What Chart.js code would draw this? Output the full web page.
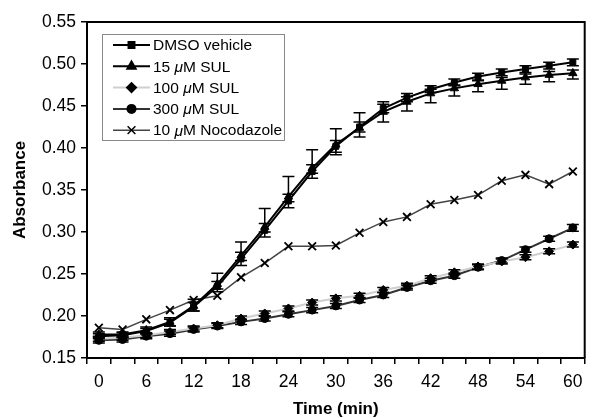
<!DOCTYPE html>
<html>
<head>
<meta charset="utf-8">
<script src="https://cdn.jsdelivr.net/npm/chart.js@4.4.1/dist/chart.umd.min.js"></script>
<style>
html,body{margin:0;padding:0;background:#fff;}
#c{display:block;}
</style>
</head>
<body>
<canvas id="c" width="592" height="418" style="width:592px;height:418px"></canvas>
<script>
const times = ['0','3','6','9','12','15','18','21','24','27','30','33','36','39','42','45','48','51','54','57','60'];
const yTickValues = [0.15,0.20,0.25,0.30,0.35,0.40,0.45,0.50,0.55];

const dmso   = [0.176,0.177,0.182,0.192,0.211,0.235,0.268,0.302,0.337,0.372,0.402,0.425,0.447,0.460,0.470,0.478,0.485,0.490,0.494,0.498,0.502];
const sul15  = [0.178,0.178,0.183,0.193,0.212,0.238,0.272,0.306,0.342,0.376,0.404,0.424,0.443,0.455,0.465,0.471,0.476,0.480,0.484,0.487,0.489];
const sul100 = [0.173,0.174,0.177,0.181,0.185,0.189,0.197,0.203,0.209,0.216,0.221,0.224,0.231,0.236,0.245,0.252,0.259,0.265,0.270,0.277,0.285];
const sul300 = [0.171,0.172,0.176,0.179,0.184,0.188,0.193,0.197,0.202,0.207,0.212,0.219,0.225,0.234,0.242,0.248,0.258,0.266,0.279,0.292,0.305];
const noco   = [0.186,0.184,0.196,0.207,0.219,0.224,0.246,0.263,0.283,0.283,0.284,0.299,0.312,0.318,0.333,0.338,0.344,0.361,0.368,0.357,0.372];

const dmsoErr      = [0.003,0.003,0.003,0.004,0.005,0.006,0.008,0.008,0.008,0.008,0.007,0.006,0.005,0.005,0.004,0.004,0.004,0.004,0.004,0.004,0.004];
const sul15ErrUp   = [0.003,0.003,0.004,0.005,0.008,0.013,0.016,0.022,0.024,0.022,0.019,0.018,0.012,0.006,0.005,0.004,0.004,0.004,0.004,0.004,0.004];
const sul15ErrDown = [0.003,0.003,0.004,0.005,0.006,0.006,0.006,0.006,0.006,0.006,0.012,0.011,0.012,0.011,0.011,0.009,0.009,0.010,0.008,0.008,0.007];
const sul100Err    = [0.003,0.003,0.003,0.003,0.003,0.003,0.003,0.003,0.003,0.003,0.003,0.003,0.003,0.003,0.003,0.003,0.003,0.003,0.003,0.003,0.003];
const sul300Err    = [0.003,0.003,0.003,0.003,0.003,0.003,0.003,0.003,0.003,0.003,0.003,0.003,0.003,0.003,0.003,0.003,0.003,0.003,0.003,0.003,0.004];

const seriesLabels = ['DMSO vehicle','15 μM SUL','100 μM SUL','300 μM SUL','10 μM Nocodazole'];

const FONT = "'Liberation Sans', Arial, Helvetica, sans-serif";

const errorBars = {
  id: 'errorBars',
  afterDatasetsDraw(chart) {
    const ctx = chart.ctx, xs = chart.scales.x, ys = chart.scales.y;
    ctx.save();
    ctx.strokeStyle = '#000';
    ctx.lineWidth = 1.5;
    chart.data.datasets.forEach((ds) => {
      if (!ds.errUp && !ds.errDown) return;
      ds.data.forEach((v, i) => {
        const x = xs.getPixelForValue(i);
        const y0 = ys.getPixelForValue(v);
        const segs = [];
        if (ds.errUp) segs.push(ys.getPixelForValue(v + ds.errUp[i]));
        if (ds.errDown) segs.push(ys.getPixelForValue(v - ds.errDown[i]));
        segs.forEach((y1) => {
          ctx.beginPath();
          ctx.moveTo(x, y0); ctx.lineTo(x, y1);
          ctx.moveTo(x - 6, y1); ctx.lineTo(x + 6, y1);
          ctx.stroke();
        });
      });
    });
    ctx.restore();
  }
};

const frame = {
  id: 'frame',
  afterDraw(chart) {
    const {ctx, chartArea: a} = chart;
    ctx.save();
    ctx.strokeStyle = '#000';
    ctx.lineWidth = 2;
    ctx.beginPath();
    ctx.moveTo(a.left, a.top); ctx.lineTo(a.right, a.top); ctx.lineTo(a.right, a.bottom);
    ctx.stroke();
    ctx.restore();
  }
};

function drawLabel(ctx, text, x, y, size) {
  const parts = text.split('μ');
  let cx = x;
  parts.forEach((p, k) => {
    if (k > 0) {
      ctx.font = 'italic ' + size + 'px ' + FONT;
      ctx.fillText('μ', cx, y);
      cx += ctx.measureText('μ').width;
    }
    ctx.font = size + 'px ' + FONT;
    ctx.fillText(p, cx, y);
    cx += ctx.measureText(p).width;
  });
}

const insideLegend = {
  id: 'insideLegend',
  afterDraw(chart) {
    const ctx = chart.ctx;
    const bx = 102, by = 34, bw = 182, bh = 106;
    ctx.save();
    ctx.fillStyle = '#fff';
    ctx.fillRect(bx, by, bw, bh);
    ctx.strokeStyle = '#888';
    ctx.lineWidth = 1;
    ctx.strokeRect(bx + 0.5, by + 0.5, bw, bh);
    chart.data.datasets.forEach((ds, i) => {
      const y = 45 + i * 21.3;
      ctx.strokeStyle = ds.borderColor;
      ctx.lineWidth = ds.borderWidth;
      ctx.beginPath();
      ctx.moveTo(113, y); ctx.lineTo(150, y);
      ctx.stroke();
      ctx.fillStyle = ds.pointBackgroundColor;
      ctx.strokeStyle = ds.pointBorderColor;
      Chart.helpers.drawPoint(ctx, {pointStyle: ds.pointStyle, radius: ds.pointRadius, borderWidth: ds.pointBorderWidth, rotation: 0}, 131.5, y);
      ctx.fillStyle = '#000';
      ctx.textBaseline = 'middle';
      ctx.textAlign = 'left';
      drawLabel(ctx, ds.label, 153, y + 1, 15.5);
    });
    ctx.restore();
  }
};

const mk = (label, data, line, style, radius, extra) => Object.assign({
  label, data,
  borderColor: line, borderWidth: 2,
  pointStyle: style, pointRadius: radius, pointHoverRadius: radius,
  pointBackgroundColor: '#000', pointBorderColor: '#000', pointBorderWidth: 1,
  tension: 0, fill: false
}, extra || {});

new Chart(document.getElementById('c'), {
  type: 'line',
  data: {
    labels: times,
    datasets: [
      mk(seriesLabels[0], dmso, '#000', 'rect', 4.2, {errUp: dmsoErr, errDown: dmsoErr}),
      mk(seriesLabels[1], sul15, '#000', 'triangle', 4.8, {errUp: sul15ErrUp, errDown: sul15ErrDown}),
      mk(seriesLabels[2], sul100, '#cfcfcf', 'rectRot', 4.5, {errUp: sul100Err, errDown: sul100Err}),
      mk(seriesLabels[3], sul300, '#333', 'circle', 4, {errUp: sul300Err, errDown: sul300Err}),
      mk(seriesLabels[4], noco, '#444', 'crossRot', 5.5, {borderWidth: 1.5, pointBorderWidth: 1.8, pointBackgroundColor: '#000'})
    ]
  },
  options: {
    responsive: false,
    animation: false,
    devicePixelRatio: 1,
    layout: {padding: {left: 0, top: 22, right: 2, bottom: 0}},
    plugins: {legend: {display: false}, tooltip: {enabled: false}},
    scales: {
      x: {
        type: 'category',
        offset: true,
        grid: {offset: true, drawOnChartArea: false, drawTicks: true, tickLength: 6, color: '#000', lineWidth: 1.5},
        border: {display: true, color: '#000', width: 2},
        ticks: {autoSkip: false, maxRotation: 0, minRotation: 0, color: '#000', padding: 8,
                font: {family: FONT, size: 17.5},
                callback: (v, i) => (i % 2 === 0 ? times[i] : '')},
        title: {display: true, text: 'Time (min)', color: '#000', font: {family: FONT, size: 17, weight: 'bold', lineHeight: 1.0}, padding: {top: 0, bottom: 0}},
        afterFit: (s) => { s.height = 60; }
      },
      y: {
        min: 0.15, max: 0.55,
        afterBuildTicks: (s) => { s.ticks = yTickValues.map(v => ({value: v})); },
        grid: {drawOnChartArea: false, drawTicks: true, tickLength: 6, color: '#000', lineWidth: 1.5},
        border: {display: true, color: '#000', width: 2},
        ticks: {color: '#000', padding: 5, font: {family: FONT, size: 17.5}, callback: (v) => Number(v).toFixed(2)},
        title: {display: true, text: 'Absorbance', color: '#000', font: {family: FONT, size: 17, weight: 'bold'}, padding: {top: 10, bottom: 0}},
        afterFit: (s) => { s.width = 87; }
      }
    }
  },
  plugins: [errorBars, frame, insideLegend]
});
</script>
</body>
</html>
